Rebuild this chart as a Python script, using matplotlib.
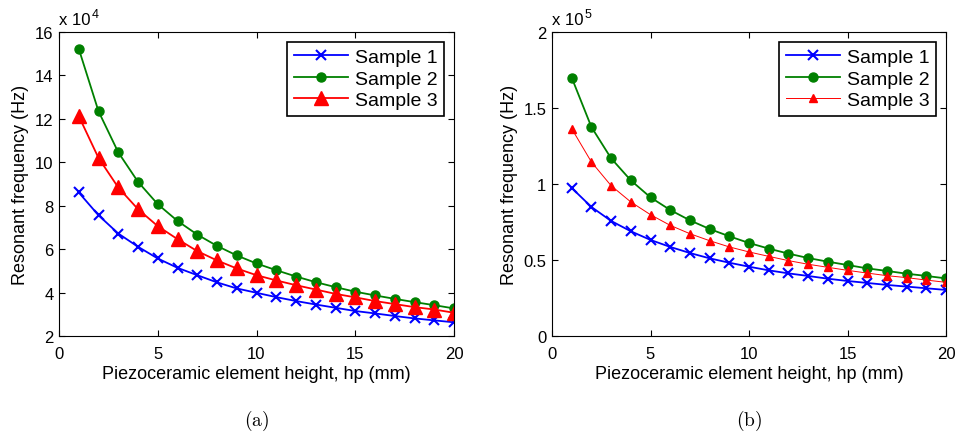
import matplotlib
matplotlib.use("Agg")
import matplotlib.pyplot as plt
import numpy as np

plt.rcParams['font.family'] = ['Liberation Sans', 'DejaVu Sans']
plt.rcParams['mathtext.fontset'] = 'cm'

hp = list(range(1, 21))

# Panel (a): values in units of 1e4 Hz
a_s1 = [8.61, 7.56, 6.72, 6.11, 5.57, 5.14, 4.80, 4.47, 4.19, 3.99,
        3.79, 3.61, 3.45, 3.30, 3.15, 3.04, 2.92, 2.81, 2.72, 2.63]
a_s2 = [15.23, 12.35, 10.46, 9.10, 8.07, 7.30, 6.67, 6.15, 5.71, 5.34,
        5.03, 4.74, 4.48, 4.25, 4.04, 3.87, 3.71, 3.56, 3.42, 3.27]
a_s3 = [12.13, 10.20, 8.84, 7.84, 7.06, 6.46, 5.91, 5.48, 5.11, 4.80,
        4.56, 4.34, 4.14, 3.94, 3.78, 3.61, 3.47, 3.33, 3.22, 3.07]

# Panel (b): values in units of 1e5 Hz
b_s1 = [0.974, 0.849, 0.757, 0.689, 0.632, 0.586, 0.546, 0.511, 0.482, 0.456,
        0.432, 0.412, 0.395, 0.377, 0.362, 0.349, 0.336, 0.325, 0.314, 0.303]
b_s2 = [1.700, 1.375, 1.169, 1.024, 0.912, 0.829, 0.761, 0.704, 0.656, 0.612,
        0.575, 0.542, 0.513, 0.489, 0.467, 0.445, 0.428, 0.410, 0.395, 0.379]
b_s3 = [1.364, 1.145, 0.989, 0.882, 0.798, 0.728, 0.673, 0.627, 0.586, 0.553,
        0.524, 0.496, 0.472, 0.452, 0.432, 0.414, 0.397, 0.384, 0.368, 0.353]

labels = ['Sample 1', 'Sample 2', 'Sample 3']
xticks = [0, 5, 10, 15, 20]
a_yticks = [2, 4, 6, 8, 10, 12, 14, 16]
b_yticks = [0, 0.5, 1, 1.5, 2]
b_yticklabels = ['0', '0.5', '1', '1.5', '2']
exponents = ['4', '5']

fig = plt.figure(figsize=(9.66, 4.35), dpi=100)
W, H = 966, 435
axa = fig.add_axes([59 / W, 1 - 337 / H, (454 - 59) / W, (337 - 33) / H])
axb = fig.add_axes([552 / W, 1 - 337 / H, (946 - 552) / W, (337 - 33) / H])

green = (0, 0.5, 0)
tfs = 12
lfs = 13
legfs = 14

# panel a
axa.plot(hp, a_s1, color='blue', marker='x', ms=6.5, mew=1.5, lw=1.3, label=labels[0])
axa.plot(hp, a_s2, color=green, marker='o', ms=6.5, lw=1.3, label=labels[1])
axa.plot(hp, a_s3, color='red', marker='^', ms=10, lw=1.3, label=labels[2])
axa.set_ylim(2, 16)
axa.set_yticks(a_yticks)

# panel b
axb.plot(hp, b_s1, color='blue', marker='x', ms=6.5, mew=1.5, lw=1.3, label=labels[0])
axb.plot(hp, b_s2, color=green, marker='o', ms=6.5, lw=1.3, label=labels[1])
axb.plot(hp, b_s3, color='red', marker='^', ms=6, lw=0.7, label=labels[2])
axb.set_ylim(0, 2)
axb.set_yticks(b_yticks)
axb.set_yticklabels(b_yticklabels)

for ax, cap, ex in ((axa, '(a)', exponents[0]), (axb, '(b)', exponents[1])):
    ax.set_xlim(0, 20)
    ax.set_xticks(xticks)
    ax.tick_params(direction='in', top=True, right=True, labelsize=tfs,
                   length=4, width=0.8)
    ax.tick_params(axis='x', pad=7)
    ax.tick_params(axis='y', pad=4)
    for s in ax.spines.values():
        s.set_linewidth(0.8)
    ax.set_xlabel('Piezoceramic element height, hp (mm)', fontsize=lfs, labelpad=3)
    ax.set_ylabel('Resonant frequency (Hz)', fontsize=lfs, labelpad=4)
    leg = ax.legend(loc='upper right', fontsize=legfs, fancybox=False,
                    edgecolor='black', framealpha=1, borderaxespad=0.5,
                    handlelength=2.8, borderpad=0.35, labelspacing=0.2,
                    handletextpad=0.35)
    leg.get_frame().set_linewidth(1.2)
    t = ax.text(0.0, 1.025, 'x 10', transform=ax.transAxes,
                fontsize=tfs, ha='left', va='baseline')
    ax.annotate(ex, xy=(1, 1), xycoords=t, xytext=(0.5, 3),
                textcoords='offset points', fontsize=9, ha='left', va='top')
    ax.text(0.5, -0.235, r'$\mathrm{' + cap + '}$', transform=ax.transAxes,
            ha='center', va='top', fontsize=14)

fig.savefig('out.png', dpi=100)
